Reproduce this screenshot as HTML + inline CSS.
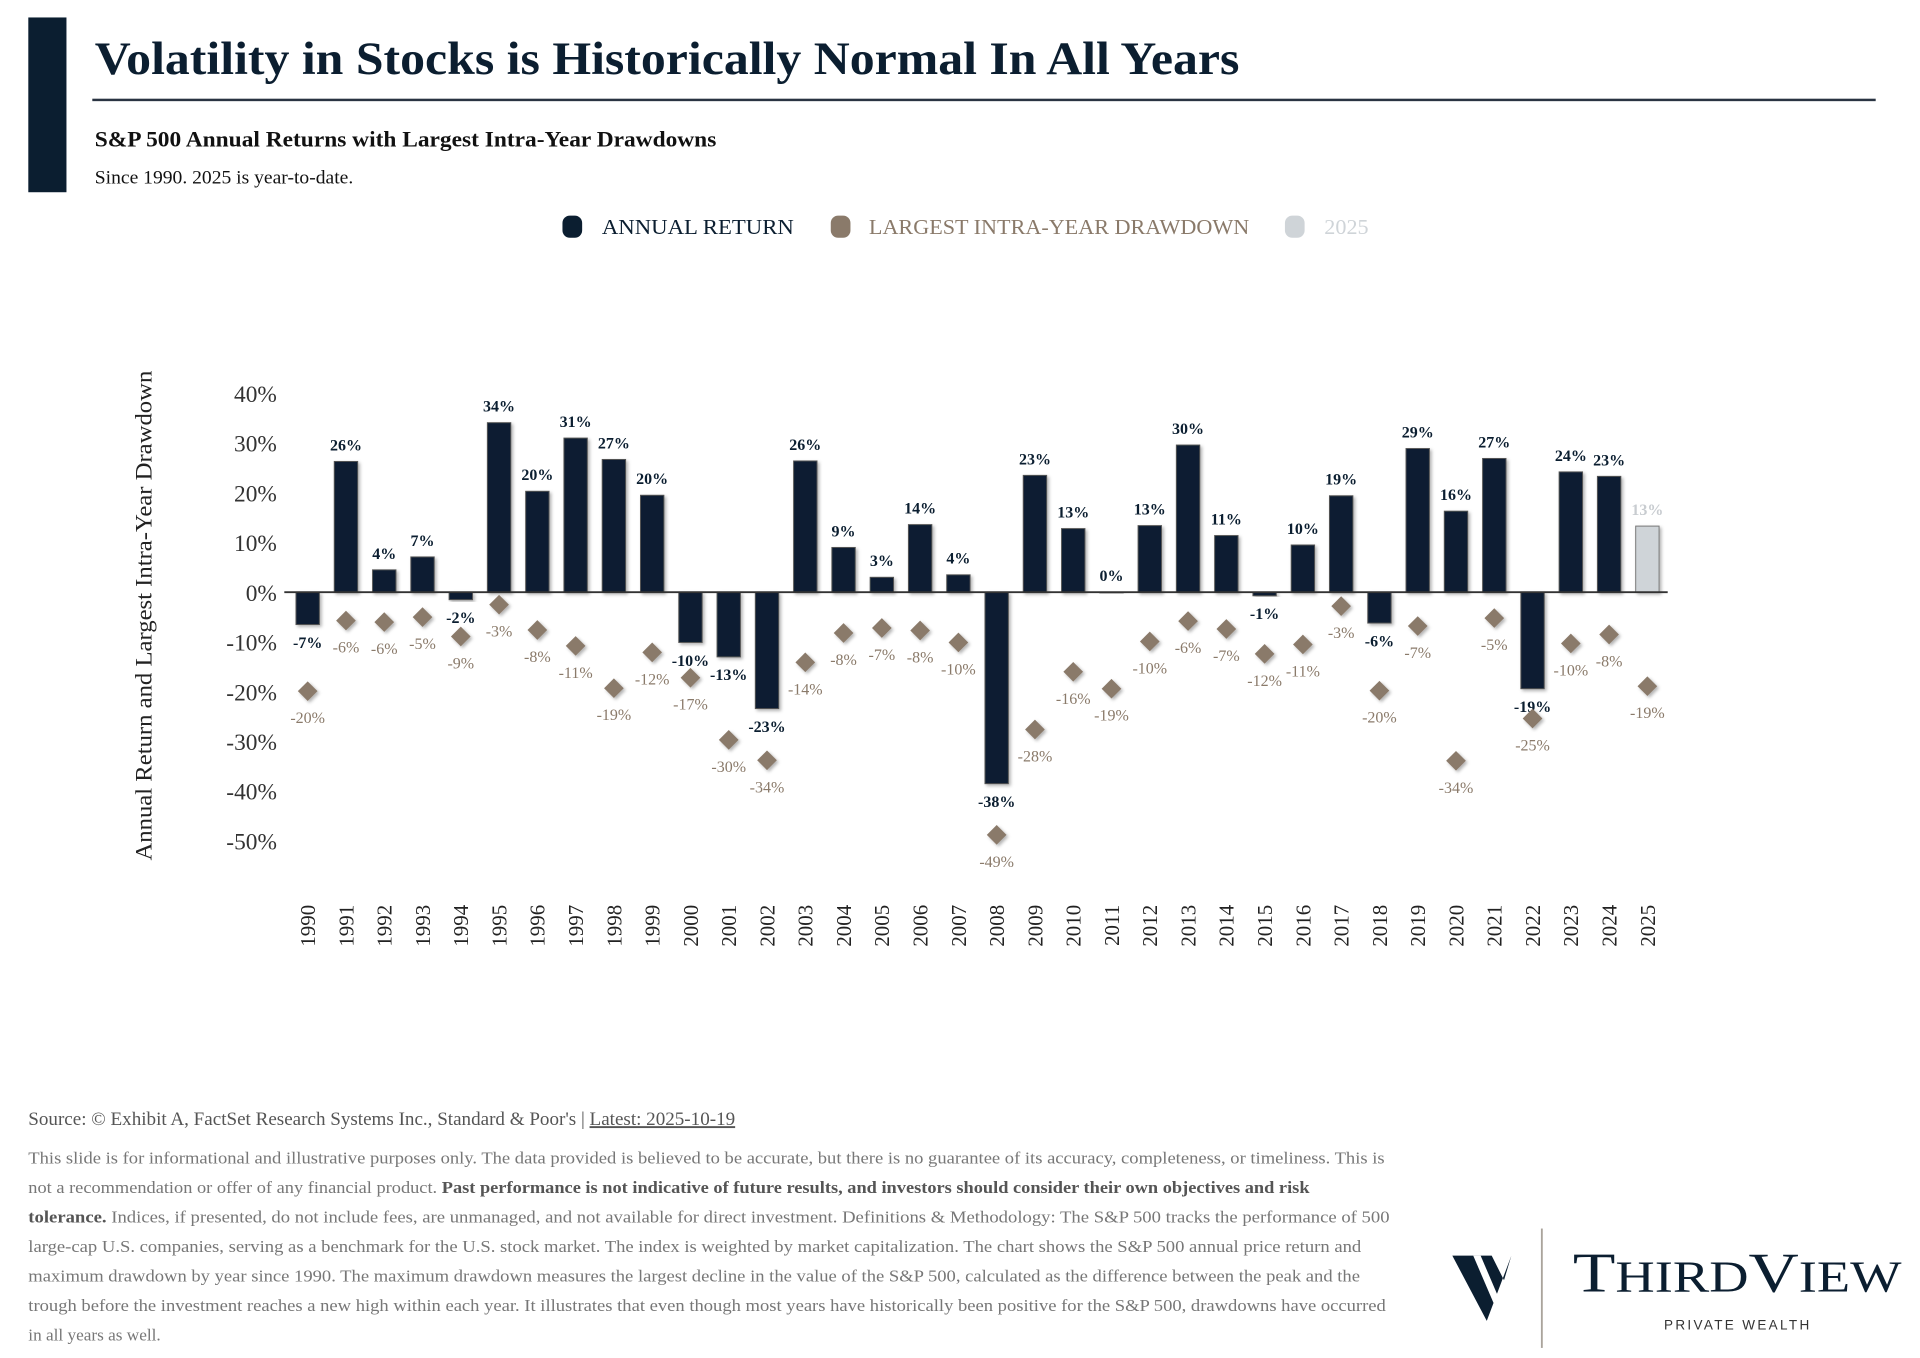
<!DOCTYPE html>
<html><head><meta charset="utf-8">
<style>
html,body{margin:0;padding:0;background:#fff;}
svg{display:block;}
text{font-family:"Liberation Serif",serif;}
</style></head>
<body>
<svg id="root" width="1920" height="1358" viewBox="0 0 1560 1103" xmlns="http://www.w3.org/2000/svg">
<defs>
<filter id="sh" x="-30%" y="-30%" width="160%" height="160%"><feDropShadow dx="1.5" dy="1.5" stdDeviation="1.2" flood-color="#000" flood-opacity="0.3"/></filter>
</defs>
<rect x="23" y="14" width="31" height="142" fill="#0b1e30"/>
<text x="77" y="60" font-size="38" font-weight="bold" fill="#0b1e30" textLength="930" lengthAdjust="spacingAndGlyphs">Volatility in Stocks is Historically Normal In All Years</text>
<rect x="75" y="80" width="1449" height="2" fill="#2a3442"/>
<text x="77" y="119" font-size="18" font-weight="bold" fill="#111" textLength="505" lengthAdjust="spacingAndGlyphs">S&amp;P 500 Annual Returns with Largest Intra-Year Drawdowns</text>
<text x="77" y="149" font-size="15" fill="#111" textLength="210" lengthAdjust="spacingAndGlyphs">Since 1990. 2025 is year-to-date.</text>
<g>
<g><rect x="457" y="175" width="16" height="18" rx="6" fill="#0b1e30"/><text x="489" y="190" font-size="17" fill="#0b1e30" textLength="156" lengthAdjust="spacingAndGlyphs">ANNUAL RETURN</text></g>
<g><rect x="675" y="175" width="16" height="18" rx="6" fill="#8a7a6a"/><text x="706" y="190" font-size="17" fill="#8a7a6a" textLength="309" lengthAdjust="spacingAndGlyphs">LARGEST INTRA-YEAR DRAWDOWN</text></g>
<g><rect x="1044" y="175" width="16" height="18" rx="6" fill="#cfd4d8"/><text x="1076" y="190" font-size="17" fill="#cfd4d8" textLength="36" lengthAdjust="spacingAndGlyphs">2025</text></g>
</g>
<text transform="translate(123,500) rotate(-90)" text-anchor="middle" font-size="19" fill="#222" textLength="398" lengthAdjust="spacingAndGlyphs">Annual Return and Largest Intra-Year Drawdown</text>
<g id="plot"></g>

<text x="23" y="914" font-size="15.5" fill="#555">Source: © Exhibit A, FactSet Research Systems Inc., Standard &amp; Poor's | <tspan text-decoration="underline">Latest: 2025-10-19</tspan></text>
<g font-size="14" fill="#777">
<text x="23" y="945" textLength="1102" lengthAdjust="spacingAndGlyphs">This slide is for informational and illustrative purposes only. The data provided is believed to be accurate, but there is no guarantee of its accuracy, completeness, or timeliness. This is</text>
<text x="23" y="969" textLength="1041" lengthAdjust="spacingAndGlyphs">not a recommendation or offer of any financial product. <tspan font-weight="bold" fill="#555">Past performance is not indicative of future results, and investors should consider their own objectives and risk</tspan></text>
<text x="23" y="993" textLength="1106" lengthAdjust="spacingAndGlyphs"><tspan font-weight="bold" fill="#555">tolerance.</tspan> Indices, if presented, do not include fees, are unmanaged, and not available for direct investment. Definitions &amp; Methodology: The S&amp;P 500 tracks the performance of 500</text>
<text x="23" y="1017" textLength="1083" lengthAdjust="spacingAndGlyphs">large-cap U.S. companies, serving as a benchmark for the U.S. stock market. The index is weighted by market capitalization. The chart shows the S&amp;P 500 annual price return and</text>
<text x="23" y="1041" textLength="1082" lengthAdjust="spacingAndGlyphs">maximum drawdown by year since 1990. The maximum drawdown measures the largest decline in the value of the S&amp;P 500, calculated as the difference between the peak and the</text>
<text x="23" y="1065" textLength="1103" lengthAdjust="spacingAndGlyphs">trough before the investment reaches a new high within each year. It illustrates that even though most years have historically been positive for the S&amp;P 500, drawdowns have occurred</text>
<text x="23" y="1089">in all years as well.</text>
</g>
<g>
<polygon points="1180,1020 1212,1020 1222,1040 1228,1020 1208,1073" fill="#0b1e30"/>
<polygon points="1197,1020 1203,1020 1218,1055 1215,1062" fill="#fff"/>
<rect x="1252" y="998" width="1.5" height="97" fill="#aaa49c"/>
<text x="1278" y="1049" font-size="46" fill="#0b1e30" textLength="267" lengthAdjust="spacingAndGlyphs">T<tspan font-size="36">HIRD</tspan>V<tspan font-size="36">IEW</tspan></text>
<text x="1352" y="1080" font-family="Liberation Sans, sans-serif" font-size="11" fill="#333" textLength="118" lengthAdjust="spacing" style="font-family:'Liberation Sans',sans-serif">PRIVATE WEALTH</text>
</g>
</svg>
<script>
const years = [1990,1991,1992,1993,1994,1995,1996,1997,1998,1999,2000,2001,2002,2003,2004,2005,2006,2007,2008,2009,2010,2011,2012,2013,2014,2015,2016,2017,2018,2019,2020,2021,2022,2023,2024,2025];
const annualReturns = [-6.5,26.3,4.5,7.1,-1.5,34.1,20.3,31.0,26.7,19.5,-10.1,-13.0,-23.4,26.4,9.0,3.0,13.6,3.5,-38.5,23.5,12.8,0.0,13.4,29.6,11.4,-0.7,9.5,19.4,-6.2,28.9,16.3,26.9,-19.4,24.2,23.3,13.3];
const returnLabels = ["-7%","26%","4%","7%","-2%","34%","20%","31%","27%","20%","-10%","-13%","-23%","26%","9%","3%","14%","4%","-38%","23%","13%","0%","13%","30%","11%","-1%","10%","19%","-6%","29%","16%","27%","-19%","24%","23%","13%"];
const drawdowns = [-19.9,-5.7,-6.0,-5.0,-8.9,-2.5,-7.6,-10.8,-19.3,-12.1,-17.2,-29.7,-33.8,-14.1,-8.2,-7.2,-7.7,-10.1,-48.8,-27.6,-16.0,-19.4,-9.9,-5.8,-7.4,-12.4,-10.5,-2.8,-19.8,-6.8,-33.9,-5.2,-25.4,-10.3,-8.5,-18.9];
const drawdownLabels = ["-20%","-6%","-6%","-5%","-9%","-3%","-8%","-11%","-19%","-12%","-17%","-30%","-34%","-14%","-8%","-7%","-8%","-10%","-49%","-28%","-16%","-19%","-10%","-6%","-7%","-12%","-11%","-3%","-20%","-7%","-34%","-5%","-25%","-10%","-8%","-19%"];
const yTicks = [40,30,20,10,0,-10,-20,-30,-40,-50];
const yTickLabels = ["40%","30%","20%","10%","0%","-10%","-20%","-30%","-40%","-50%"];

const NS = "http://www.w3.org/2000/svg";
const plot = document.getElementById('plot');
const y0 = 481, pxPer = 4.04;
const yScale = v => y0 - v * pxPer;
const xScale = i => 250 + i * 31.1;
function mk(tag, attrs, txt){
  const e = document.createElementNS(NS, tag);
  for (const k in attrs) e.setAttribute(k, attrs[k]);
  if (txt !== undefined) e.textContent = txt;
  plot.appendChild(e);
  return e;
}
yTicks.forEach((t,i)=>{
  const e = mk('text',{x:225,y:yScale(t)+7,'text-anchor':'end','font-size':19,fill:'#333'},yTickLabels[i]);
  
  
});
years.forEach((yr,i)=>{
  const x = xScale(i), v = annualReturns[i];
  const is25 = yr === 2025;
  const top = Math.min(yScale(v), y0), h = Math.max(Math.abs(yScale(v)-y0), 0.5);
  const b = mk('rect',{x:x-9.5,y:top,width:19,height:h,fill:is25?'#cfd4d8':'#0b1e30',stroke:is25?'#777':'#555','stroke-width':0.8,filter:'url(#sh)'});
  
  
  const ly = v >= 0 ? yScale(v) - 9 : yScale(v) + 19;
  const l = mk('text',{x:x,y:ly,'text-anchor':'middle','font-size':13,'font-weight':'bold',fill:is25?'#c8ccd0':'#0b1e30'},returnLabels[i]);
  
  
  const dy = yScale(drawdowns[i]);
  const d = mk('polygon',{points:`${x},${dy-8} ${x+8},${dy} ${x},${dy+8} ${x-8},${dy}`,fill:'#8a7a6a',filter:'url(#sh)'});
  
  
  const dl = mk('text',{x:x,y:dy+26,'text-anchor':'middle','font-size':13,fill:'#8a7a6a'},drawdownLabels[i]);
  
  
  const yl = mk('text',{transform:`translate(${x+6},735) rotate(-90)`,'text-anchor':'end','font-size':17,fill:'#222'},String(yr));
  
  
});
const ax = mk('line',{x1:231,x2:1355,y1:y0,y2:y0,stroke:'#333','stroke-width':1.5});


</script>
</body></html>
